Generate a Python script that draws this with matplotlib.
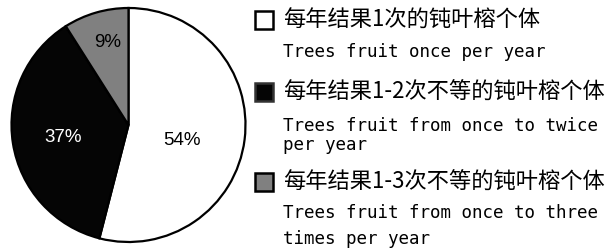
import matplotlib
matplotlib.use("Agg")
import matplotlib.pyplot as plt
from matplotlib.patches import Rectangle
import numpy as np

# ---- data ----
values = [54, 37, 9]
pct_labels = ["54%", "37%", "9%"]
colors = ["#ffffff", "#050505", "#808080"]
legend_cn = ["每年结果1次的钝叶榕个体",
             "每年结果1-2次不等的钝叶榕个体",
             "每年结果1-3次不等的钝叶榕个体"]
legend_en = [["Trees fruit once per year"],
             ["Trees fruit from once to twice", "per year"],
             ["Trees fruit from once to three", "times per year"]]

W, H = 612, 250
fig = plt.figure(figsize=(W / 100, H / 100), dpi=100)

# pie axes (pixel geometry)
cx, cy, r = 128.5, 125, 117
ax = fig.add_axes([(cx - r) / W, (H - cy - r) / H, 2 * r / W, 2 * r / H])
wedges, _ = ax.pie(values, colors=colors, startangle=90, counterclock=False,
                   wedgeprops=dict(edgecolor="black", linewidth=1.6))
for w in wedges:
    w.set_clip_on(False)
ax.set_xlim(-1, 1)
ax.set_ylim(-1, 1)
ax.set_aspect("equal")
ax.axis("off")

# label placement (style): radial distance and angle tweak per wedge
label_r = [0.477, 0.571, 0.727]
label_dt = [-9.4, 2.2, -1.9]
label_col = ["black", "white", "black"]
for w, lab, rr, dt, c in zip(wedges, pct_labels, label_r, label_dt, label_col):
    mid = np.deg2rad((w.theta1 + w.theta2) / 2 + dt)
    ax.text(rr * np.cos(mid), rr * np.sin(mid), lab, ha="center", va="center",
            color=c, fontsize=13.5,
            family=["Liberation Sans Narrow", "Liberation Sans"])

# legend (manual)
sq_x, sq_size = 255, 18
cn_y = [20, 92, 182]
en_base = [[57], [131, 150], [218, 244]]
text_x = 283
for i in range(3):
    y = cn_y[i]
    rect = Rectangle(((sq_x) / W, (H - y - sq_size / 2) / H), sq_size / W, sq_size / H,
                     transform=fig.transFigure, facecolor=colors[i],
                     edgecolor="black" if i != 1 else "#333333", linewidth=1.8)
    fig.patches.append(rect)
    fig.text(text_x / W, (H - y) / H, legend_cn[i], ha="left", va="center",
             fontsize=16, family=["Noto Sans CJK SC", "DejaVu Sans"])
    for line, yb in zip(legend_en[i], en_base[i]):
        fig.text(text_x / W, (H - yb) / H, line, ha="left", va="baseline",
                 fontsize=12.6, family="DejaVu Sans Mono")

fig.savefig("out.png", dpi=100, facecolor="white")
